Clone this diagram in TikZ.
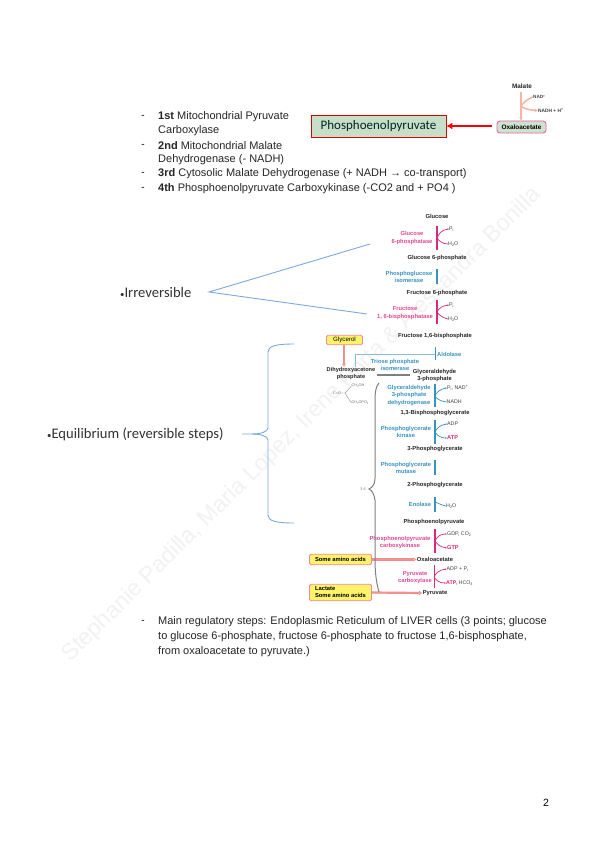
\documentclass[tikz,border=0pt]{standalone}
\usepackage{fontspec}
\setmainfont{Liberation Sans}
\newfontfamily\calfnt{Carlito}
\usetikzlibrary{arrows.meta}
\definecolor{mg}{HTML}{D9287F}
\definecolor{bl}{HTML}{3A93BC}
\definecolor{lb}{HTML}{7FA8DF}
\definecolor{ybox}{HTML}{FFF36B}
\definecolor{pk}{HTML}{EE8A9A}
\definecolor{sal}{HTML}{F4977F}
\newcommand\lo[1]{\raisebox{-.35ex}{\scalebox{.7}{#1}}}
\newcommand\hi[1]{\raisebox{.6ex}{\scalebox{.7}{#1}}}
\tikzset{
 body/.style={anchor=west,inner sep=0pt,font=\fontsize{11}{12}\selectfont,text=black!85},
 dashm/.style={anchor=center,inner sep=0pt,font=\fontsize{10}{12}\selectfont},
 met/.style={inner sep=0pt,font=\fontsize{5.8}{7}\selectfont\bfseries,text=black!85},
 side/.style={inner sep=0pt,font=\fontsize{5.3}{6}\selectfont,text=black!75},
 enzm/.style={inner sep=0pt,align=center,font=\fontsize{5.8}{7.6}\selectfont\bfseries,text=mg!85},
 enzb/.style={inner sep=0pt,align=center,font=\fontsize{5.8}{7.6}\selectfont\bfseries,text=bl},
 yb/.style={draw=pk,fill=ybox,rounded corners=1.5pt,line width=.9pt,inner sep=0pt},
 feed/.style={draw=pk,line width=.6pt,double=sal,double distance=1pt,-{Latex[length=3.5pt,width=4.5pt,fill=ybox]}},
 mline/.style={draw=mg,line width=1.2pt},
 bline/.style={draw=bl,line width=1.2pt},
 mcur/.style={draw=mg,line width=.7pt,-{Latex[length=1.6pt,width=1.6pt]}},
 bcur/.style={draw=bl,line width=.7pt,-{Latex[length=1.6pt,width=1.6pt]}},
 lbline/.style={draw=lb,line width=.9pt},
 chem/.style={draw=black!45,line width=.35pt},
 cht/.style={inner sep=0pt,font=\fontsize{3.8}{4}\selectfont,text=black!55},
 big/.style={inner sep=0pt,font=\calfnt\fontsize{14.6}{16}\selectfont,text=black!80},
 salar/.style={draw=sal!70,line width=2pt,-{Latex[length=3pt,width=4pt]}},
}
\begin{document}
\begin{tikzpicture}[x=1pt,y=-1pt]
\useasboundingbox (0,0) rectangle (600,848);
\fill[white] (0,0) rectangle (600,848);
% watermark
\node[inner sep=0pt,rotate=44.7,text=black!5,font=\fontsize{23}{25}\selectfont] (wm) at (302,425) {Stephanie Padilla, Maria Lopez, Irene Porta \& Alessandra Bonilla};
% list
\node[dashm] (d1) at (143,117) {-};
\node[body] (l1) at (158,117) {\textbf{1st} Mitochondrial Pyruvate};
\node[body] (l1b) at (158,131) {Carboxylase};
\node[dashm] (d2) at (143,146) {-};
\node[body] (l2) at (158,146) {\textbf{2nd} Mitochondrial Malate};
\node[body] (l2b) at (158,160) {Dehydrogenase (- NADH)};
\node[dashm] (d3) at (143,174) {-};
\node[body] (l3) at (158,174) {\textbf{3rd} Cytosolic Malate Dehydrogenase (+ NADH → co-transport)};
\node[dashm] (d4) at (143,189) {-};
\node[body] (l4) at (158,189) {\textbf{4th} Phosphoenolpyruvate Carboxykinase (-CO2 and + PO4 )};
% top right
\node[draw=red!85!black,fill=green!25!gray!35,line width=.8pt,minimum width=135pt,minimum height=22pt,inner sep=0pt] (pep) at (378.5,126) {\calfnt\fontsize{13}{15}\selectfont\textcolor{black!70!teal}{Phosphoenolpyruvate}\hspace{7pt}};
\node[draw=mg!70,fill=green!25!gray!30,rounded corners=3pt,line width=.9pt,minimum width=49pt,minimum height=12pt,inner sep=0pt,font=\fontsize{6.4}{7}\selectfont\bfseries] (oaa) at (521.5,127) {Oxaloacetate};
\coordinate (oaw) at (492,126);
\draw[draw=red,line width=1.8pt,-{Latex[length=6pt,width=7pt]}] (oaw) -- (oaw -| pep.east);
\node[met,font=\fontsize{6.4}{7}\selectfont\bfseries] (mal) at (522,86) {Malate};
\node[side,font=\fontsize{4.6}{5}\selectfont\bfseries,anchor=west] (nad) at (533,97) {NAD\hi{+}};
\node[side,font=\fontsize{4.8}{5}\selectfont\bfseries,anchor=west] (nadh) at (538,110.5) {NADH + H\hi{+}};
\coordinate (malb) at (521,92);
\draw[salar] (malb) -- (malb |- oaa.north);
\coordinate (mj) at (521,106);
\draw[draw=sal!70,line width=1.6pt] (nad.west) .. controls (526,100) and (523,103) .. (mj);
\draw[draw=sal!70,line width=1.6pt,-{Latex[length=3pt,width=3.5pt]}] (mj) .. controls (523,108) and (528,110) .. (nadh.west);
% blue labels
\node[big,anchor=west] (irr) at (120,292) {\scalebox{.6}{•}Irreversible};
\coordinate (irrt) at (209,292);
\coordinate (irra) at (370,244);
\coordinate (irrb) at (367,314);
\draw[lbline] (irra) -- (irrt) -- (irrb);
\node[big,anchor=west] (eq) at (47,434) {\scalebox{.6}{•}Equilibrium (reversible steps)};
\coordinate (eqs) at (242,434);
\draw[lbline] (eqs) -- (252,434) .. controls (260,434) and (268,432) .. (268,428) -- (268,352) .. controls (268,346) and (276,344) .. (294,344);
\draw[lbline] (252,434) .. controls (260,434) and (268,436) .. (268,440) -- (268,515) .. controls (268,521) and (276,523) .. (294,523);
% pathway metabolites
\node[met] (glc) at (437,216) {Glucose};
\node[met] (g6p) at (437,258) {Glucose 6-phosphate};
\node[met] (f6p) at (437,293) {Fructose 6-phosphate};
\node[met] (fbp) at (435,336) {Fructose 1,6-bisphosphate};
\node[met,align=center,font=\fontsize{5.6}{7.4}\selectfont\bfseries] (dhap) at (351,373.5) {Dihydroxyacetone\\phosphate};
\node[met,align=center,font=\fontsize{5.8}{7.2}\selectfont\bfseries] (gap) at (434.5,375.5) {Glyceraldehyde\\3-phosphate};
\node[met] (bpg) at (435,413) {1,3-Bisphosphoglycerate};
\node[met] (pg3) at (435,449) {3-Phosphoglycerate};
\node[met] (pg2) at (435,485) {2-Phosphoglycerate};
\node[met] (pepb) at (434,522) {Phosphoenolpyruvate};
\node[met] (oa) at (435,559.5) {Oxaloacetate};
\node[met] (pyr) at (435,593) {Pyruvate};
% enzymes
\node[enzm] (e1) at (412,238) {Glucose\\6-phosphatase};
\node[enzb] (e2) at (409,277) {Phosphoglucose\\isomerase};
\node[enzm] (e3) at (405,313) {Fructose\\1, 6-bisphosphatase};
\node[enzb,anchor=west] (e4) at (437,354) {Aldolase};
\node[enzb] (e5) at (395,365) {Triose phosphate\\isomerase};
\node[enzb] (e6) at (409,395.5) {Glyceraldehyde\\3-phosphate\\dehydrogenase};
\node[enzb] (e7) at (406,432) {Phosphoglycerate\\kinase};
\node[enzb] (e8) at (406,468) {Phosphoglycerate\\mutase};
\node[enzb] (e9) at (420,504) {Enolase};
\node[enzm] (e10) at (400,542.5) {Phosphoenolpyruvate\\carboxykinase};
\node[enzm] (e11) at (415,577.5) {Pyruvate\\carboxylase};
% side products
\node[side,anchor=west] (p1) at (449,229) {P\lo{i}};
\node[side,anchor=west] (w1) at (448,244) {H\lo{2}O};
\node[side,anchor=west] (p2) at (449,305) {P\lo{i}};
\node[side,anchor=west] (w2) at (448,319) {H\lo{2}O};
\node[side,anchor=west] (p3) at (447,388) {P\lo{i}, NAD\hi{+}};
\node[side,anchor=west] (n3) at (446.5,402) {NADH};
\node[side,anchor=west] (a4) at (447,424) {ADP};
\node[side,anchor=west,text=mg,font=\fontsize{5.6}{6}\selectfont\bfseries] (t4) at (447,438) {ATP};
\node[side,anchor=west] (w5) at (446,506) {H\lo{2}O};
\node[side,anchor=west] (g6) at (447,534) {GDP, CO\lo{2}};
\node[side,anchor=west,text=mg,font=\fontsize{5.6}{6}\selectfont\bfseries] (t6) at (447,548) {GTP};
\node[side,anchor=west] (a7) at (446.5,569) {ADP + P\lo{i}};
\node[side,anchor=west] (t7) at (446,583) {\textcolor{mg}{\textbf{ATP,}} HCO\lo{3}};
% bracket lines
\coordinate (b1t) at (437,226); \coordinate (b1b) at (437,250);
\coordinate (b2t) at (437,269); \coordinate (b2b) at (437,284);
\coordinate (b3t) at (437,300); \coordinate (b3b) at (437,324);
\coordinate (b4t) at (435,347); \coordinate (b4b) at (435,360);
\coordinate (b6t) at (435,384); \coordinate (b6b) at (435,407);
\coordinate (b7t) at (435,420); \coordinate (b7b) at (435,444);
\coordinate (b8t) at (435,460); \coordinate (b8b) at (435,475);
\coordinate (b9t) at (435,497); \coordinate (b9b) at (435,512);
\coordinate (b10t) at (435,529); \coordinate (b10b) at (435,553);
\coordinate (b11t) at (434,565); \coordinate (b11b) at (434,588);
\draw[mline] (b1t) -- (b1b);
\draw[bline] (b2t) -- (b2b);
\draw[mline] (b3t) -- (b3b);
\draw[draw=bl,line width=.8pt] (b4t) -- (b4b);
\draw[bline] (b6t) -- (b6b);
\draw[bline] (b7t) -- (b7b);
\draw[bline] (b8t) -- (b8b);
\draw[bline] (b9t) -- (b9b);
\draw[mline] (b10t) -- (b10b);
\draw[draw=mg,line width=.8pt] (b11t) -- (b11b);
% bracket arcs
\coordinate (j1) at (437,238); \coordinate (j3) at (437,312); \coordinate (j6) at (435,396);
\coordinate (j7) at (435,432); \coordinate (j9) at (435,502); \coordinate (j10) at (435,541); \coordinate (j11) at (434,577);
\draw[mcur] (j1) .. controls (439,233) and (442,230) .. (p1.west);
\draw[draw=mg,line width=.7pt] (j1) .. controls (439,241) and (443,244) .. (w1.west);
\draw[mcur] (j3) .. controls (439,308) and (442,306) .. (p2.west);
\draw[draw=mg,line width=.7pt] (j3) .. controls (439,315) and (443,318) .. (w2.west);
\draw[bcur] (j6) .. controls (437,392) and (440,389) .. (p3.west);
\draw[draw=bl,line width=.7pt] (j6) .. controls (437,399) and (440,401) .. (n3.west);
\draw[bcur] (j7) .. controls (437,428) and (440,425) .. (a4.west);
\draw[bcur] (j7) .. controls (437,435) and (440,438) .. (t4.west);
\draw[draw=bl,line width=.7pt] (j9) .. controls (438,503) and (441,505) .. (w5.west);
\draw[mcur] (j10) .. controls (437,537) and (440,534) .. (g6.west);
\draw[mcur] (j10) .. controls (437,544) and (440,547) .. (t6.west);
\draw[mcur] (j11) .. controls (436,573) and (439,570) .. (a7.west);
\draw[mcur] (j11) .. controls (436,580) and (439,583) .. (t7.west);
% aldolase link
\coordinate (alj) at (435,354);
\coordinate (alc) at (355,354);
\coordinate (ale) at (355,367);
\draw[draw=bl!60,line width=.8pt] (alj) -- (alc) -- (ale);
% triose arrow
\coordinate (ta) at (377,375);
\coordinate (tb) at (410,375);
\draw[draw=black!50,line width=1.5pt] (ta) -- (tb);
% glycerol + feed boxes
\node[yb,minimum width=36pt,minimum height=9.5pt,font=\fontsize{6.2}{7}\selectfont] (gly) at (344.5,340) {Glycerol};
\coordinate (dhapin) at (344,367);
\draw[feed] (gly.south -| dhapin) -- (dhapin);
\node[yb,minimum width=62pt,minimum height=10.5pt,font=\fontsize{5.8}{7}\selectfont\bfseries] (aa) at (340.5,559.5) {Some amino acids};
\draw[feed] (aa.east) -- (oa.west);
\node[yb,minimum width=62pt,minimum height=16.5pt,align=left,font=\fontsize{5.8}{7}\selectfont\bfseries] (lac) at (340.5,592.5) {Lactate\\Some amino acids};
\draw[feed] (lac.east) -- (pyr.west);
% big brace
\coordinate (gbt) at (379,383);
\coordinate (gbb) at (379,592);
\coordinate (gbm) at (369,489);
\draw[draw=black!50,line width=1pt] (gbt) .. controls (376,386) and (375,392) .. (375,400) -- (375,478) .. controls (375,484) and (373,487) .. (gbm) .. controls (373,491) and (374,495) .. (375,500) -- (375,560) .. controls (375,575) and (377,585) .. (gbb);
\node[cht] (gbl) at (363,489) {3 6};
% chem structure
\node[cht] (c1) at (358,386) {CH\lo{2}OH};
\node[cht] (c2) at (337,393) {C=O};
\node[cht] (c3) at (360,403) {CH\lo{2}OPO\lo{3}};
\coordinate (cj) at (345,393);
\draw[chem] (c2.east) -- (cj) -- (c1.west);
\draw[chem] (cj) -- (c3.west);
% bottom text
\node[dashm] (d5) at (143,622) {-};
\node[body] (b1) at (158,622) {Main regulatory steps: Endoplasmic Reticulum of LIVER cells (3 points; glucose};
\node[body] (b2) at (158,637) {to glucose 6-phosphate, fructose 6-phosphate to fructose 1,6-bisphosphate,};
\node[body] (b3) at (158,652) {from oxaloacetate to pyruvate.)};
\node[inner sep=0pt,font=\fontsize{10.5}{12}\selectfont] (pg) at (546,803) {2};
\end{tikzpicture}
\end{document}
